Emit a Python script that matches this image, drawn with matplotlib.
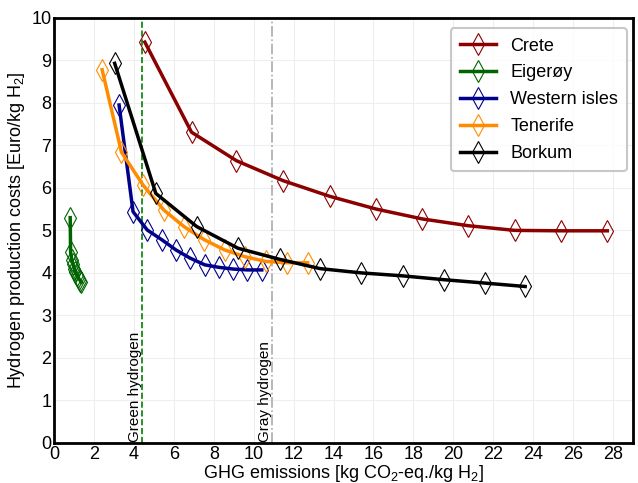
import matplotlib
matplotlib.use('Agg')
import matplotlib.pyplot as plt

plt.rcParams['font.family'] = ['Liberation Sans', 'DejaVu Sans']
plt.rcParams['mathtext.default'] = 'regular'

# GHG emissions [kg CO2-eq./kg H2] and costs [Euro/kg H2] per site
crete_x = [4.54, 6.88, 9.13, 11.47, 13.82, 16.15, 18.44, 20.75, 23.08, 25.41, 27.72]
crete_y = [9.43, 7.31, 6.64, 6.17, 5.80, 5.50, 5.27, 5.11, 5.00, 4.99, 4.99]

eigeroy_x = [0.80, 0.82, 0.88, 0.94, 1.00, 1.06, 1.12, 1.18, 1.24, 1.30, 1.36]
eigeroy_y = [5.30, 4.50, 4.30, 4.20, 4.10, 4.02, 3.96, 3.90, 3.86, 3.82, 3.78]

western_x = [3.25, 3.95, 4.66, 5.39, 6.10, 6.80, 7.54, 8.26, 8.98, 9.68, 10.40]
western_y = [7.95, 5.44, 5.01, 4.78, 4.54, 4.35, 4.19, 4.13, 4.09, 4.07, 4.07]

tenerife_x = [2.40, 3.37, 4.46, 5.49, 6.50, 7.52, 8.54, 9.56, 10.60, 11.66, 12.70]
tenerife_y = [8.78, 6.84, 6.06, 5.48, 5.09, 4.78, 4.54, 4.38, 4.27, 4.24, 4.24]

borkum_x = [3.03, 5.09, 7.14, 9.21, 11.29, 13.33, 15.39, 17.47, 19.53, 21.59, 23.60]
borkum_y = [8.93, 5.87, 5.09, 4.58, 4.32, 4.10, 4.00, 3.93, 3.84, 3.76, 3.68]

green_limit = 4.4
gray_limit = 10.9

series = [
    ('Crete', crete_x, crete_y, '#8B0000'),
    ('Eigerøy', eigeroy_x, eigeroy_y, '#006400'),
    ('Western isles', western_x, western_y, '#00008B'),
    ('Tenerife', tenerife_x, tenerife_y, '#FF8C00'),
    ('Borkum', borkum_x, borkum_y, 'black'),
]

fig, ax = plt.subplots(figsize=(6.38, 4.83), dpi=100)
fig.subplots_adjust(left=0.085, right=0.992, top=0.963, bottom=0.083)

for name, x, y, col in series:
    ax.plot(x, y, color=col, lw=2.5, marker='d', markersize=11,
            markerfacecolor='none', markeredgecolor=col, markeredgewidth=0.8,
            label=name)

ax.axvline(green_limit, color='green', ls='--', lw=1.2, zorder=1)
ax.axvline(gray_limit, color='#AAAAAA', ls='-.', lw=1.2, zorder=1)
ax.text(green_limit, 0.03, 'Green hydrogen', rotation=90, ha='right',
        va='bottom', fontsize=11)
ax.text(gray_limit, 0.03, 'Gray hydrogen', rotation=90, ha='right',
        va='bottom', fontsize=11)

ax.set_xlim(0, 29)
ax.set_ylim(0, 10)
ax.set_xticks(range(0, 29, 2))
ax.set_yticks(range(0, 11))
ax.grid(True, color='#EEEEEE', lw=0.8)
ax.set_axisbelow(True)
for s in ax.spines.values():
    s.set_linewidth(2)
ax.tick_params(labelsize=13, length=0, pad=2)

ax.set_xlabel('GHG emissions [kg CO$_2$-eq./kg H$_2$]', fontsize=13, labelpad=0)
ax.set_ylabel('Hydrogen production costs [Euro/kg H$_2$]', fontsize=13, labelpad=3)

leg = ax.legend(loc='upper right', bbox_to_anchor=(0.99, 0.975), fontsize=13,
                handlelength=2.0, fancybox=True, edgecolor='#BBBBBB',
                borderpad=0.5, labelspacing=0.55, borderaxespad=0)
leg.get_frame().set_linewidth(1.5)

fig.savefig('out.png', dpi=100)
